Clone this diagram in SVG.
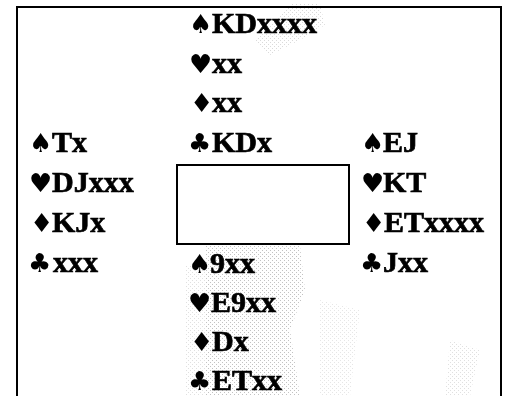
<svg xmlns="http://www.w3.org/2000/svg" width="505" height="396" viewBox="0 0 505 396">
<defs>
<pattern id="dots" width="4" height="4" patternUnits="userSpaceOnUse">
<rect x="0" y="0" width="1" height="1" fill="#666"/>
<rect x="2" y="2" width="1" height="1" fill="#666"/>
</pattern>
</defs>
<style>
.t{font-family:"Liberation Serif","Times New Roman",serif;font-weight:bold;font-size:30px;fill:#000;stroke:#000;stroke-width:0.7}
.s{font-family:"DejaVu Sans",sans-serif;font-size:26px;font-weight:normal;stroke:none}
.frame{fill:none;stroke:#000;stroke-width:2}
</style>
<rect width="505" height="396" fill="#fff"/>
<g id="texture" opacity="0.4">
<path d="M205,246 L300,246 L305,290 L290,330 L300,396 L205,396 Z" fill="url(#dots)"/>
<path d="M185,265 L205,265 L205,396 L185,396 Z" fill="url(#dots)" opacity="0.5"/>
<path d="M290,4 L320,4 L325,25 L300,40 L270,55 L255,40 Z" fill="url(#dots)" opacity="0.6"/>
<path d="M450,340 L480,350 L470,396 L445,396 Z" fill="url(#dots)" opacity="0.5"/>
<path d="M320,300 L360,310 L350,396 L320,396 Z" fill="url(#dots)" opacity="0.4"/>
</g>
<g id="frame">
<path class="frame" d="M17,396 V7 H501 V396"/>
</g>
<g id="table">
<rect class="frame" x="177" y="165" width="172" height="79"/>
</g>
<g id="north">
<text class="t" y="33"><tspan class="s" x="189">♠</tspan><tspan x="212">KDxxxx</tspan></text>
<text class="t" y="73"><tspan class="s" x="189">♥</tspan><tspan x="212">xx</tspan></text>
<text class="t" y="112"><tspan class="s" x="190">♦</tspan><tspan x="212">xx</tspan></text>
<text class="t" y="152"><tspan class="s" x="188">♣</tspan><tspan x="212">KDx</tspan></text>
</g>
<g id="west">
<text class="t" y="152"><tspan class="s" x="29">♠</tspan><tspan x="52">Tx</tspan></text>
<text class="t" y="192"><tspan class="s" x="29">♥</tspan><tspan x="52">DJxxx</tspan></text>
<text class="t" y="232"><tspan class="s" x="30">♦</tspan><tspan x="52">KJx</tspan></text>
<text class="t" y="272"><tspan class="s" x="28">♣</tspan><tspan x="53">xxx</tspan></text>
</g>
<g id="east">
<text class="t" y="152"><tspan class="s" x="361">♠</tspan><tspan x="383">EJ</tspan></text>
<text class="t" y="192"><tspan class="s" x="361">♥</tspan><tspan x="383">KT</tspan></text>
<text class="t" y="232"><tspan class="s" x="362">♦</tspan><tspan x="384">ETxxxx</tspan></text>
<text class="t" y="272"><tspan class="s" x="360">♣</tspan><tspan x="383">Jxx</tspan></text>
</g>
<g id="south">
<text class="t" y="273"><tspan class="s" x="188">♠</tspan><tspan x="210">9xx</tspan></text>
<text class="t" y="312"><tspan class="s" x="188">♥</tspan><tspan x="211">E9xx</tspan></text>
<text class="t" y="351"><tspan class="s" x="190">♦</tspan><tspan x="212">Dx</tspan></text>
<text class="t" y="390"><tspan class="s" x="188">♣</tspan><tspan x="212">ETxx</tspan></text>
</g>
</svg>
